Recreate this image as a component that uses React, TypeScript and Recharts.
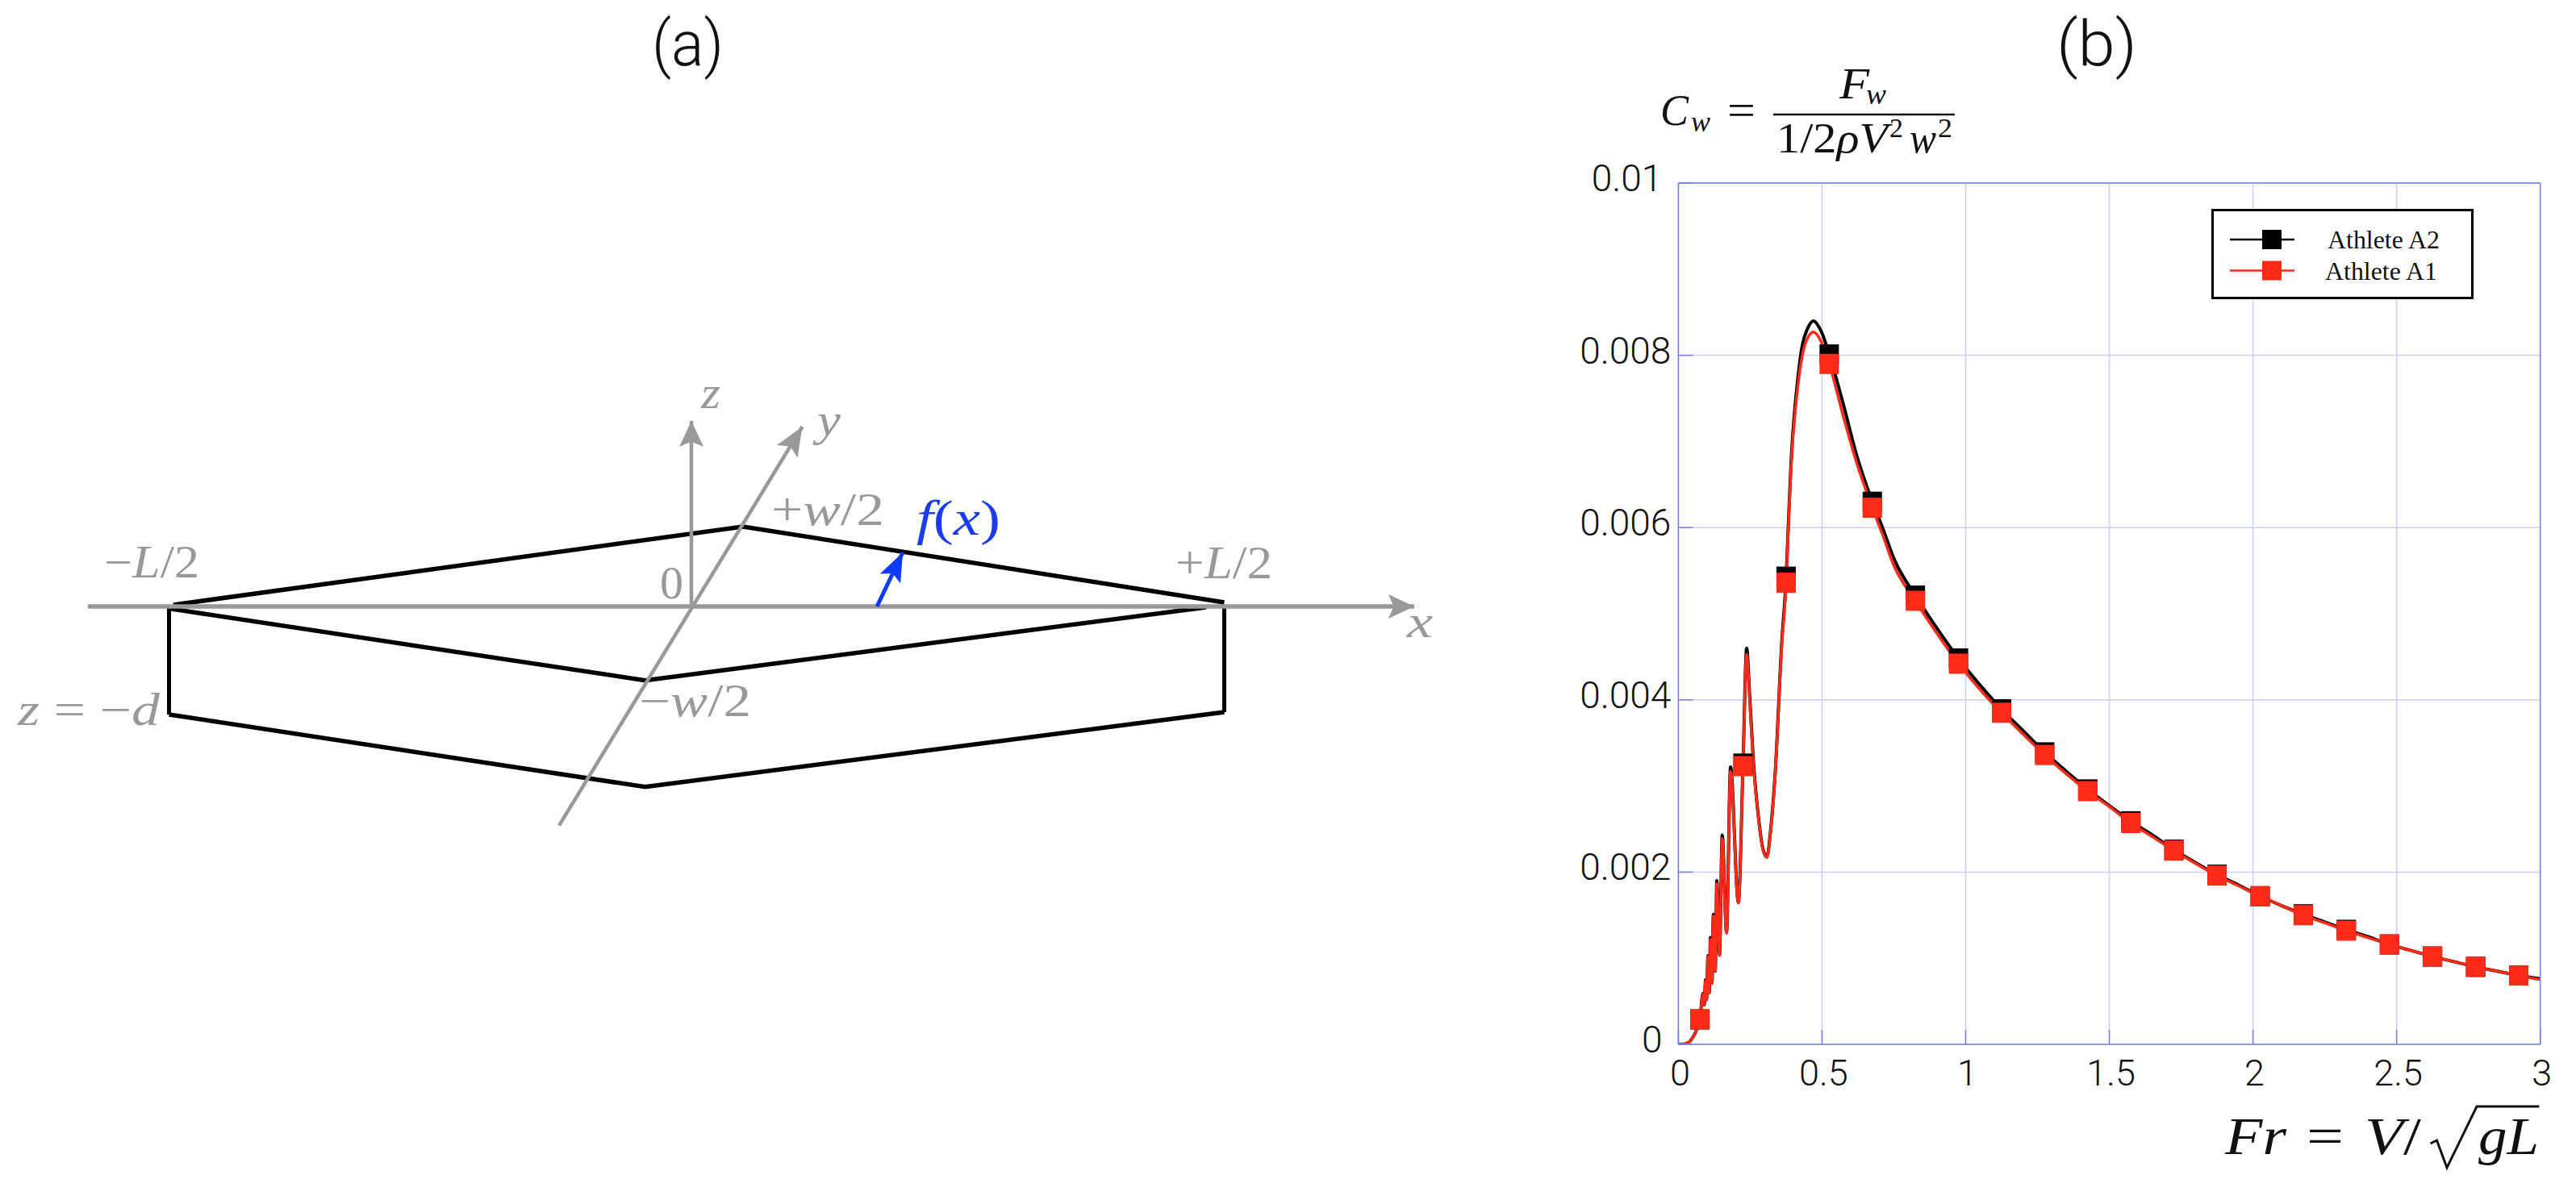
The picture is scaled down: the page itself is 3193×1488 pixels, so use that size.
import { CartesianGrid, Legend, Line, LineChart, XAxis, YAxis } from "recharts"

const PAGE_W = 3193
const PAGE_H = 1488

// (b) drag curve
const curveFr = [
  0, 0.02, 0.035, 0.05, 0.062, 0.075, 0.0852, 0.09, 0.0946, 0.098, 0.103, 0.1077, 0.1114, 0.117, 0.1217, 0.1283,
  0.1339, 0.1433, 0.1526, 0.1676, 0.1816, 0.2088, 0.225, 0.2378, 0.248, 0.261, 0.28, 0.295, 0.308, 0.322, 0.336, 0.36,
  0.3753, 0.3828, 0.3921, 0.4155, 0.4315, 0.4483, 0.47, 0.497, 0.525, 0.575, 0.617, 0.675, 0.7105, 0.75, 0.825, 0.9,
  0.975, 1.05, 1.125, 1.2, 1.275, 1.35, 1.425, 1.5, 1.575, 1.65, 1.725, 1.8, 1.875, 1.95, 2.025, 2.1, 2.175, 2.25,
  2.325, 2.4, 2.475, 2.55, 2.625, 2.7, 2.775, 2.85, 2.925, 3,
]
const curveA1 = [
  0, 0.000003, 0.00002, 0.00008, 0.00016, 0.00029, 0.00058, 0.00046, 0.00074, 0.00052, 0.00102, 0.0006, 0.00122,
  0.00071, 0.00149, 0.00085, 0.00187, 0.00103, 0.00239, 0.00129, 0.00317, 0.00164, 0.00323, 0.00453, 0.004, 0.00326,
  0.00258, 0.00225, 0.00217, 0.0025, 0.00308, 0.00464, 0.00536, 0.006, 0.00669, 0.00763, 0.008, 0.00819, 0.00827,
  0.00816, 0.0079, 0.00728, 0.00679, 0.00623, 0.00592, 0.00556, 0.00515, 0.00477, 0.00442, 0.00412, 0.00385, 0.0036,
  0.00336, 0.00314, 0.00294, 0.00276, 0.00257, 0.00241, 0.00225, 0.0021, 0.00196, 0.00184, 0.00172, 0.00161, 0.0015,
  0.00141, 0.00132, 0.00124, 0.00116, 0.00109, 0.00102, 0.00096, 0.0009, 0.00085, 0.0008, 0.00075,
]
const curveA2 = [
  0, 0.000003, 0.00002, 0.00008, 0.00016, 0.00029, 0.00059, 0.00046, 0.00075, 0.00052, 0.00103, 0.0006, 0.00124,
  0.00071, 0.00151, 0.00085, 0.0019, 0.00104, 0.00243, 0.0013, 0.00322, 0.00165, 0.00326, 0.0046, 0.00405, 0.0033,
  0.0026, 0.00226, 0.00218, 0.00252, 0.0031, 0.00468, 0.00543, 0.00604, 0.00675, 0.00772, 0.00812, 0.0083, 0.0084,
  0.00828, 0.00801, 0.00742, 0.00688, 0.0063, 0.006, 0.00564, 0.00521, 0.00483, 0.00448, 0.00417, 0.00389, 0.00364,
  0.00339, 0.00317, 0.00296, 0.00277, 0.00259, 0.00243, 0.00226, 0.00211, 0.00197, 0.00185, 0.00172, 0.00161, 0.00151,
  0.00142, 0.00133, 0.00125, 0.00116, 0.00109, 0.00102, 0.00096, 0.0009, 0.00085, 0.0008, 0.00076,
]

const markerFr = [
  0.075, 0.225, 0.375, 0.525, 0.675, 0.825, 0.975, 1.125, 1.275, 1.425, 1.575, 1.725, 1.875, 2.025, 2.175, 2.325,
  2.475, 2.625, 2.775, 2.925,
]
const markerA1 = [
  0.00029, 0.00323, 0.00536, 0.0079, 0.00623, 0.00515, 0.00442, 0.00385, 0.00336, 0.00294, 0.00257, 0.00225, 0.00196,
  0.00172, 0.0015, 0.00132, 0.00116, 0.00102, 0.0009, 0.0008,
]
const markerA2 = [
  0.00029, 0.00326, 0.00543, 0.00801, 0.0063, 0.00521, 0.00448, 0.00389, 0.00339, 0.00296, 0.00259, 0.00226, 0.00197,
  0.00172, 0.00151, 0.00133, 0.00116, 0.00102, 0.0009, 0.0008,
]

const frTicks = [0, 0.5, 1, 1.5, 2, 2.5, 3]
const cwTicks = [0, 0.002, 0.004, 0.006, 0.008, 0.01]
const athletes = ["Athlete A2", "Athlete A1"]

const curveA1Data = curveFr.map((fr, i) => ({ fr, cw: curveA1[i] }))
const curveA2Data = curveFr.map((fr, i) => ({ fr, cw: curveA2[i] }))
const markerA1Data = markerFr.map((fr, i) => ({ fr, cw: markerA1[i] }))
const markerA2Data = markerFr.map((fr, i) => ({ fr, cw: markerA2[i] }))

// (a) hull sketch, in sketch units with the origin where the axes cross
const xAxisPath = [[-748, 0], [896, 0]]
const zAxisPath = [[0, 0], [0, 230]]
const yAxisPath = [[-164, -271.6], [137.5, 223]]
const upperDeck = [[-642, 2], [64, 99], [660.5, 5]]
const lowerDeck = [[-647.5, -2.6], [-57.3, -91.7], [638, -1]]
const hullBottom = [[-647.5, -134], [-57.3, -223.8], [660.5, -131]]
const leftStem = [[-647.5, -1], [-647.5, -134]]
const rightStem = [[660.5, 0], [660.5, -131]]
const offsetArrow = [[230, 0], [262, 67]]

const toPoints = (path: number[][]) => path.map(([x, y]) => ({ x, y }))

const GREY = "#999999"
const BLUE_GRID = "#ccd0f4"
const BLUE_AXIS = "#7683dc"
const RED = "#ff2a18"
const INK = "#111111"
const TICK_FONT = "Roboto, sans-serif"
const MATH_FONT = "'Liberation Serif', serif"

function arrowHead(path: number[][], color: string, len: number, half: number) {
  const [x0, y0] = path[path.length - 2]
  const [x1, y1] = path[path.length - 1]
  const angle = (Math.atan2(y0 - y1, x1 - x0) * 180) / Math.PI
  return (props: any) => {
    if (props.index !== path.length - 1) return <g key={props.index} />
    return (
      <polygon
        key={props.index}
        points={`0,0 ${-len},${-half} ${-len * 0.8},0 ${-len},${half}`}
        fill={color}
        transform={`translate(${props.cx} ${props.cy}) rotate(${angle})`}
      />
    )
  }
}

function Sketch() {
  const series = [
    { path: upperDeck, color: "#000", width: 5.5 },
    { path: lowerDeck, color: "#000", width: 5.5 },
    { path: hullBottom, color: "#000", width: 5.5 },
    { path: leftStem, color: "#000", width: 5 },
    { path: rightStem, color: "#000", width: 5 },
    { path: xAxisPath, color: GREY, width: 5.5, head: [32, 15] },
    { path: zAxisPath, color: GREY, width: 4.5, head: [32, 15] },
    { path: yAxisPath, color: GREY, width: 4.5, head: [36, 15] },
    { path: offsetArrow, color: "#0a3cff", width: 5, head: [36, 14] },
  ]
  return (
    <LineChart width={1900} height={PAGE_H} margin={{ top: 0, right: 0, bottom: 0, left: 0 }}>
      <XAxis type="number" dataKey="x" domain={[-857, 1043]} allowDataOverflow hide />
      <YAxis type="number" dataKey="y" domain={[-736, 752]} allowDataOverflow hide />
      {series.map((s, i) => (
        <Line
          key={i}
          data={toPoints(s.path)}
          dataKey="y"
          type="linear"
          stroke={s.color}
          strokeWidth={s.width}
          strokeLinejoin="miter"
          dot={s.head ? arrowHead(s.path, s.color, s.head[0], s.head[1]) : false}
          activeDot={false}
          legendType="none"
          isAnimationActive={false}
        />
      ))}
    </LineChart>
  )
}

function CwTick({ x, y, payload }: any) {
  const label = String(payload.value)
  const right = label.length >= 5 ? x - 27 : x - 38
  return (
    <text x={right} y={y + 10} textAnchor="end" fontFamily={TICK_FONT} fontWeight={300} fontSize={46} fill={INK}>
      {label}
    </text>
  )
}

function FrTick({ x, y, payload }: any) {
  return (
    <text x={x + 2} y={y + 68.5} textAnchor="middle" fontFamily={TICK_FONT} fontWeight={300} fontSize={45} fill={INK}>
      {payload.value}
    </text>
  )
}

const squareDot = (color: string) => (props: any) =>
  <rect key={props.index} x={props.cx - 12} y={props.cy - 12.5} width={24} height={25} fill={color} />

function DragLegend({ payload }: any) {
  const colorOf = (name: string) => (payload || []).find((p: any) => p.value === name)?.color
  return (
    <svg width={325} height={112} style={{ display: "block" }}>
      <rect x={1.5} y={1.5} width={322} height={109} fill="#fff" stroke="#000" strokeWidth={3} />
      {athletes.map((name, i) => {
        const rowY = i === 0 ? 38 : 76.5
        return (
          <g key={name}>
            <line x1={23} x2={103} y1={rowY} y2={rowY} stroke={colorOf(name)} strokeWidth={2.5} />
            <rect x={63} y={rowY - 12} width={24} height={24} fill={colorOf(name)} />
            <text
              x={i === 0 ? 144 : 141}
              y={rowY + 11}
              fontFamily={MATH_FONT}
              fontSize={31}
              fill={INK}
              textLength={139}
              lengthAdjust="spacingAndGlyphs"
            >
              {name}
            </text>
          </g>
        )
      })}
    </svg>
  )
}

function DragChart() {
  return (
    <LineChart width={1293} height={PAGE_H} margin={{ top: 0, right: 0, bottom: 0, left: 0 }}>
      <CartesianGrid stroke={BLUE_GRID} strokeWidth={1.5} horizontalValues={cwTicks} verticalValues={frTicks} />
      <XAxis
        type="number"
        dataKey="fr"
        domain={[0, 3]}
        ticks={frTicks}
        allowDataOverflow
        height={193}
        interval={0}
        stroke={BLUE_AXIS}
        strokeWidth={1.5}
        tickSize={-18}
        tickMargin={0}
        tick={<FrTick />}
      />
      <XAxis
        xAxisId="top"
        orientation="top"
        type="number"
        domain={[0, 3]}
        ticks={frTicks}
        allowDataOverflow
        height={227}
        interval={0}
        stroke={BLUE_AXIS}
        strokeWidth={1.5}
        tickSize={-18}
        tick={false}
      />
      <YAxis
        type="number"
        domain={[0, 0.01]}
        ticks={cwTicks}
        allowDataOverflow
        width={180.4}
        interval={0}
        stroke={BLUE_AXIS}
        strokeWidth={1.5}
        tickSize={-18}
        tickMargin={0}
        tick={<CwTick />}
      />
      <YAxis
        yAxisId="right"
        orientation="right"
        type="number"
        domain={[0, 0.01]}
        ticks={cwTicks}
        allowDataOverflow
        width={44.3}
        interval={0}
        stroke={BLUE_AXIS}
        strokeWidth={1.5}
        tickSize={-18}
        tick={false}
      />
      <Line
        data={curveA2Data}
        dataKey="cw"
        name={athletes[0]}
        type="monotone"
        stroke="#000"
        strokeWidth={4}
        dot={false}
        activeDot={false}
        isAnimationActive={false}
      />
      <Line
        data={curveA1Data}
        dataKey="cw"
        name={athletes[1]}
        type="monotone"
        stroke={RED}
        strokeWidth={3.5}
        dot={false}
        activeDot={false}
        isAnimationActive={false}
      />
      <Line
        data={markerA2Data}
        dataKey="cw"
        stroke="none"
        dot={squareDot("#000")}
        activeDot={false}
        legendType="none"
        isAnimationActive={false}
      />
      <Line
        data={markerA1Data}
        dataKey="cw"
        stroke="none"
        dot={squareDot(RED)}
        activeDot={false}
        legendType="none"
        isAnimationActive={false}
      />
      <Legend
        layout="vertical"
        align="center"
        verticalAlign="middle"
        wrapperStyle={{ position: "absolute", left: 840.8, top: 259, width: 325, height: 112 }}
        content={<DragLegend />}
      />
    </LineChart>
  )
}

function Tex({ x, y, w, size = 56, fill = INK, italic = false, children }: any) {
  return (
    <text
      x={x}
      y={y}
      fontFamily={MATH_FONT}
      fontSize={size}
      fill={fill}
      fontStyle={italic ? "italic" : "normal"}
      textLength={w}
      lengthAdjust="spacingAndGlyphs"
    >
      {children}
    </text>
  )
}

const it = (s: string) => <tspan fontStyle="italic">{s}</tspan>

function Title({ x, w, children }: any) {
  return (
    <text
      x={x}
      y={81}
      fontFamily={TICK_FONT}
      fontWeight={300}
      fontSize={78}
      fill={INK}
      textLength={w}
      lengthAdjust="spacingAndGlyphs"
    >
      {children}
    </text>
  )
}

function Annotations() {
  return (
    <svg
      width={PAGE_W}
      height={PAGE_H}
      style={{ position: "absolute", left: 0, top: 0, pointerEvents: "none" }}
    >
      <Title x={808} w={89}>(a)</Title>
      <Title x={2549} w={100}>(b)</Title>

      <Tex x={129} y={716} w={118} fill={GREY}>−{it("L")}/2</Tex>
      <Tex x={818} y={742} w={29} fill={GREY}>0</Tex>
      <Tex x={869} y={506} w={24} size={58} fill={GREY} italic>z</Tex>
      <Tex x={1013} y={540} w={29} size={58} fill={GREY} italic>y</Tex>
      <Tex x={1744} y={790} w={32} size={58} fill={GREY} italic>x</Tex>
      <Tex x={956} y={651} w={140} fill={GREY}>+{it("w")}/2</Tex>
      <Tex x={1136} y={663} w={104} size={62} fill="#1a3cf0">{it("f")}({it("x")})</Tex>
      <Tex x={1457} y={717} w={120} fill={GREY}>+{it("L")}/2</Tex>
      <Tex x={792} y={888} w={139} fill={GREY}>−{it("w")}/2</Tex>
      <Tex x={22} y={899} w={176} fill={GREY}>{it("z")} = −{it("d")}</Tex>

      <Tex x={2058} y={155} w={35} size={54} italic>C</Tex>
      <Tex x={2096} y={163} w={24} size={36} italic>w</Tex>
      <Tex x={2141} y={155} w={35} size={54}>=</Tex>
      <Tex x={2280} y={122} w={37} size={54} italic>F</Tex>
      <Tex x={2313} y={129} w={25} size={36} italic>w</Tex>
      <line x1={2198} x2={2423} y1={142} y2={142} stroke={INK} strokeWidth={2.5} />
      <Tex x={2202} y={189} w={138} size={52}>1/2{it("ρV")}</Tex>
      <Tex x={2342} y={170} w={17} size={34}>2</Tex>
      <Tex x={2367} y={189} w={33} size={52} italic>w</Tex>
      <Tex x={2402} y={170} w={18} size={34}>2</Tex>

      <Tex x={2758} y={1431} w={76} size={66} italic>Fr</Tex>
      <Tex x={2859} y={1431} w={46} size={66}>=</Tex>
      <Tex x={2931} y={1431} w={70} size={66}>{it("V")}/</Tex>
      <polyline
        points="3012.6,1418 3020.5,1414 3033,1448 3070,1372 3147.4,1372"
        fill="none"
        stroke={INK}
        strokeWidth={3}
      />
      <Tex x={3072} y={1431} w={75} size={66} italic>gL</Tex>
    </svg>
  )
}

export default function App() {
  return (
    <div style={{ position: "absolute", left: 0, top: 0, width: PAGE_W, height: PAGE_H, background: "#fff", overflow: "hidden" }}>
      <div style={{ position: "absolute", left: 0, top: 0 }}>
        <Sketch />
      </div>
      <div style={{ position: "absolute", left: 1900, top: 0 }}>
        <DragChart />
      </div>
      <Annotations />
    </div>
  )
}
